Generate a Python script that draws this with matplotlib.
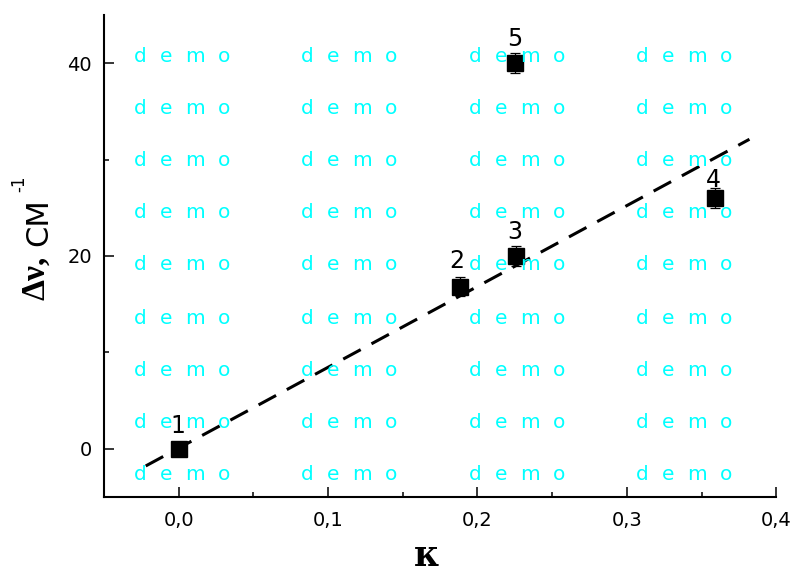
import matplotlib
matplotlib.use('Agg')
import matplotlib.pyplot as plt
from matplotlib.ticker import MultipleLocator, FuncFormatter

# Data
kappa = [0.0, 0.188, 0.226, 0.359, 0.225]
dnu = [0.0, 16.8, 20.0, 26.0, 40.0]
dnu_err = [0.4, 1.0, 1.0, 1.0, 1.0]
point_labels = ['1', '2', '3', '4', '5']

# dashed fit line, end points
fit_x = [-0.022, 0.382]
fit_y = [-1.8, 32.1]

plt.rcParams['font.family'] = ['DejaVu Sans']

W, H = 793, 575
fig = plt.figure(figsize=(W / 100, H / 100), dpi=100)
ax = fig.add_axes([0.131, 0.136, 0.848, 0.838])

# watermark grid, letters placed one by one (pixels from top-left)
letter_dx = [0, 26, 51, 84]
for col in [134, 301, 469, 636]:
    for row in [57, 109, 161, 213, 265, 318, 370, 422, 474]:
        for ch, dx in zip('demo', letter_dx):
            fig.text((col + dx) / W, 1 - row / H, ch, color='#00ffff',
                     fontsize=14.5, ha='left', va='center', zorder=0)

ax.plot(fit_x, fit_y, color='black', lw=2.2, ls=(0, (6.5, 4)), zorder=3)
ax.errorbar(kappa, dnu, yerr=dnu_err, fmt='s', color='black', ms=11,
            capsize=3.5, elinewidth=0.9, capthick=0.9, zorder=4)

# label offsets in pixels
offsets = [(-1, 16), (-3, 19), (-2, 17), (-2, 11), (0, 17)]
for x, y, lab, off in zip(kappa, dnu, point_labels, offsets):
    ax.annotate(lab, (x, y), xytext=off, textcoords='offset pixels',
                fontsize=17, ha='center', va='baseline', zorder=5)

ax.set_xlim(-0.05, 0.4)
ax.set_ylim(-5, 45)
ax.patch.set_alpha(0)

for s in ['top', 'right']:
    ax.spines[s].set_visible(False)
for s in ['left', 'bottom']:
    ax.spines[s].set_linewidth(1.5)

ax.xaxis.set_major_locator(MultipleLocator(0.1))
ax.xaxis.set_minor_locator(MultipleLocator(0.05))
ax.yaxis.set_major_locator(MultipleLocator(20))
ax.yaxis.set_minor_locator(MultipleLocator(10))
ax.xaxis.set_major_formatter(FuncFormatter(lambda v, p: f'{v:.1f}'.replace('.', ',')))
ax.tick_params(which='major', direction='in', length=7, width=1.1, labelsize=14)
ax.tick_params(which='minor', direction='in', length=3.6, width=1.1)
ax.tick_params(axis='x', which='major', pad=10.5)
ax.tick_params(axis='y', which='major', pad=8.5)

# axis titles
fig.text(427 / W, 1 - 556 / H, 'κ', fontsize=25, fontweight='bold',
         family='DejaVu Serif', ha='center', va='center')
fig.text(36 / W, 1 - 278 / H, 'Δν,', rotation=90, fontsize=24, fontweight='bold',
         family='Liberation Serif', ha='center', va='center')
fig.text(39 / W, 1 - 222 / H, 'СМ', rotation=90, fontsize=22,
         ha='center', va='center')
fig.text(19 / W, 1 - 184 / H, '-1', rotation=90, fontsize=12,
         ha='center', va='center')

fig.savefig('out.png', dpi=100)
